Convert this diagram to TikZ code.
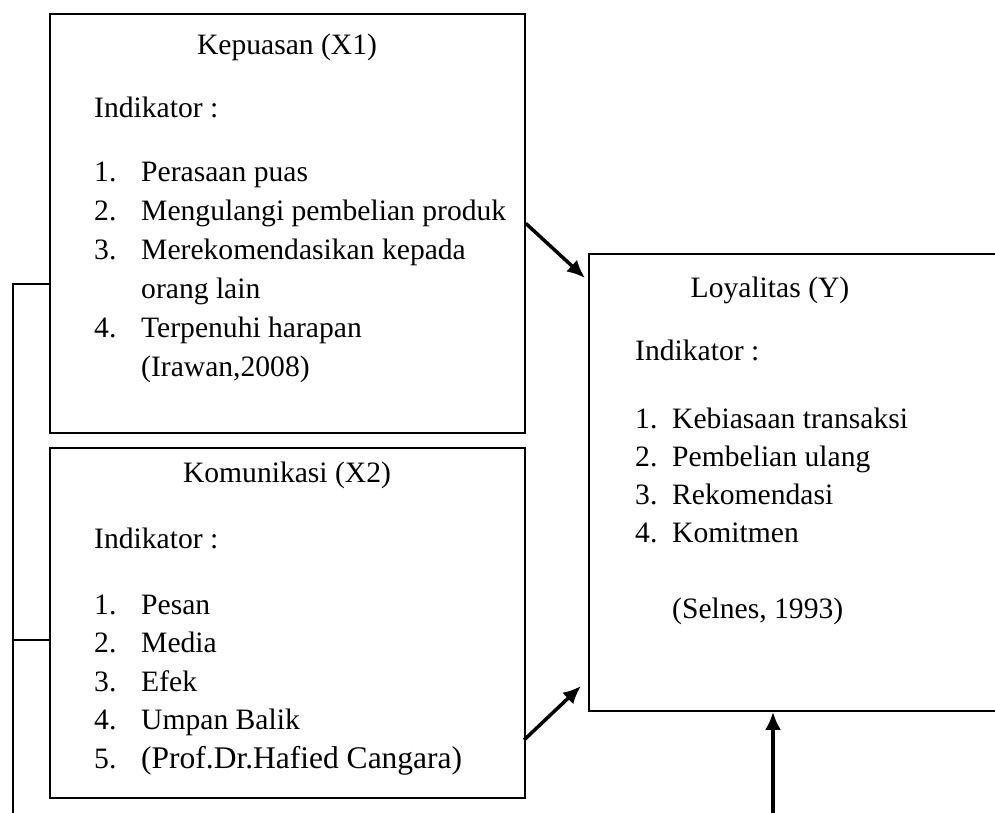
\documentclass[tikz,border=0pt]{standalone}
\usepackage{fontspec}
\setmainfont{Liberation Serif}
\usetikzlibrary{positioning, calc, arrows.meta}

\begin{document}
\begin{tikzpicture}[x=1pt, y=-1pt,
    box/.style={draw, line width=1.8pt, anchor=north west, inner sep=0pt},
    txt/.style={anchor=base west, inner sep=0pt, font=\fontsize{29.6}{35}\selectfont},
    title/.style={anchor=base, inner sep=0pt, font=\fontsize{29.6}{35}\selectfont},
    arr/.style={line width=3.5pt, -{Latex[length=18pt,width=16pt]}},
    link/.style={line width=2pt}]

        % Page size
        \useasboundingbox (0,0) rectangle (995,813);
        \clip (0,0) rectangle (995,813);

        % Boxes
        \node[box, minimum width=475pt, minimum height=419pt] (kepuasan) at (49,13) {};
        \node[box, minimum width=475pt, minimum height=350pt] (komunikasi) at (49,447) {};
        \node[box, minimum width=460pt, minimum height=457pt] (loyalitas) at (588,253) {};

        % Kepuasan (X1)
        \node[title] (kp-title) at (287,55) {Kepuasan (X1)};
        \node[txt] (kp-ind) at (94,118) {Indikator :};
        \foreach \n/\t [count=\i from 0] in {1./Perasaan puas, 2./Mengulangi pembelian produk,
            3./Merekomendasikan kepada, /orang lain, 4./Terpenuhi harapan, /{(Irawan,2008)}} {
          \node[txt] (kp-n\i) at (94,{182+\i*38.8}) {\n};
          \node[txt] (kp-t\i) at (141,{182+\i*38.8}) {\t};
        }

        % Komunikasi (X2)
        \node[title] (km-title) at (287,482) {Komunikasi (X2)};
        \node[txt] (km-ind) at (94,548) {Indikator :};
        \foreach \n/\t [count=\i from 0] in {1./Pesan, 2./Media, 3./Efek, 4./Umpan Balik} {
          \node[txt] (km-n\i) at (94,{614+\i*38.6}) {\n};
          \node[txt] (km-t\i) at (141,{614+\i*38.6}) {\t};
        }
        \node[txt] (km-n4) at (94,768) {5.};
        \node[txt, font=\fontsize{31.5}{35}\selectfont] (km-t4) at (141,768) {(Prof.Dr.Hafied Cangara)};

        % Loyalitas (Y)
        \node[title] (ly-title) at (770,297) {Loyalitas (Y)};
        \node[txt] (ly-ind) at (635,360) {Indikator :};
        \foreach \n/\t [count=\i from 0] in {1./Kebiasaan transaksi, 2./Pembelian ulang,
            3./Rekomendasi, 4./Komitmen} {
          \node[txt] (ly-n\i) at (635,{428+\i*38.2}) {\n};
          \node[txt] (ly-t\i) at (672,{428+\i*38.2}) {\t};
        }
        \node[txt] (ly-src) at (672,618) {(Selnes, 1993)};

        % Arrows into Loyalitas
        \coordinate (inA) at (585,278);
        \coordinate (outB) at (524,740);
        \coordinate (inB) at (581,686);
        \coordinate (inC) at (773,815);
        \draw[arr] (kepuasan.east) -- (inA);
        \draw[arr] (outB) -- (inB);
        \draw[arr] (inC) -- (inC |- loyalitas.south);

        % Left bracket
        \coordinate (busA) at (13,284);
        \coordinate (busB) at (13,640);
        \draw[link] (kepuasan.west |- busA) -- (busA) -- (13,815);
        \draw[link] (komunikasi.west |- busB) -- (busB);
\end{tikzpicture}
\end{document}
